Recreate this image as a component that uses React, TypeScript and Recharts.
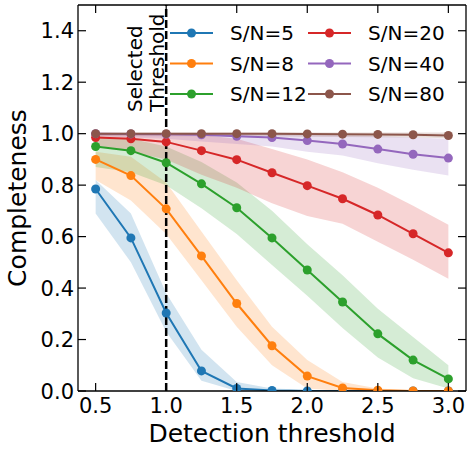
import { ComposedChart, Line, Area, XAxis, YAxis, ReferenceLine } from "recharts";

const THRESHOLDS = [0.5, 0.75, 1.0, 1.25, 1.5, 1.75, 2.0, 2.25, 2.5, 2.75, 3.0];

const SN5 = [0.785, 0.595, 0.303, 0.078, 0.01, 0.002, 0.0, 0.0, 0.0, 0.0, 0.0];
const SN5_LO = [0.69, 0.5, 0.23, 0.04, 0.0, 0.0, 0.0, 0.0, 0.0, 0.0, 0.0];
const SN5_HI = [0.82, 0.69, 0.38, 0.16, 0.035, 0.01, 0.005, 0.0, 0.0, 0.0, 0.0];

const SN8 = [0.9, 0.837, 0.708, 0.525, 0.34, 0.176, 0.058, 0.012, 0.003, 0.0, 0.0];
const SN8_LO = [0.82, 0.74, 0.61, 0.43, 0.25, 0.1, 0.01, 0.0, 0.0, 0.0, 0.0];
const SN8_HI = [0.93, 0.91, 0.81, 0.62, 0.43, 0.25, 0.12, 0.035, 0.01, 0.003, 0.0];

const SN12 = [0.95, 0.934, 0.887, 0.805, 0.712, 0.595, 0.47, 0.346, 0.222, 0.12, 0.047];
const SN12_LO = [0.87, 0.85, 0.8, 0.71, 0.61, 0.49, 0.37, 0.245, 0.13, 0.05, 0.01];
const SN12_HI = [0.99, 0.98, 0.95, 0.89, 0.81, 0.7, 0.57, 0.45, 0.32, 0.21, 0.1];

const SN20 = [0.985, 0.98, 0.968, 0.934, 0.899, 0.848, 0.798, 0.747, 0.684, 0.611, 0.537];
const SN20_LO = [0.955, 0.93, 0.9, 0.84, 0.79, 0.73, 0.68, 0.65, 0.58, 0.51, 0.436];
const SN20_HI = [1.0, 1.0, 1.0, 0.995, 0.98, 0.94, 0.9, 0.85, 0.79, 0.72, 0.646];

const SN40 = [1.0, 0.999, 0.998, 0.996, 0.99, 0.985, 0.973, 0.96, 0.94, 0.92, 0.905];
const SN40_LO = [0.99, 0.985, 0.98, 0.97, 0.96, 0.95, 0.93, 0.915, 0.885, 0.86, 0.837];
const SN40_HI = [1.0, 1.0, 1.0, 1.0, 1.0, 1.0, 1.0, 0.995, 0.99, 0.985, 0.98];

const SN80 = [1.0, 1.0, 1.0, 1.0, 1.0, 1.0, 0.999, 0.998, 0.997, 0.996, 0.993];
const SN80_LO = [0.99, 0.99, 0.99, 0.99, 0.99, 0.99, 0.988, 0.987, 0.986, 0.985, 0.982];
const SN80_HI = [1.005, 1.005, 1.005, 1.005, 1.005, 1.005, 1.005, 1.005, 1.005, 1.005, 1.005];

const X_TICKS = [0.5, 1.0, 1.5, 2.0, 2.5, 3.0];
const Y_TICKS = [0, 0.2, 0.4, 0.6, 0.8, 1.0, 1.2, 1.4];

const SERIES = [
  { key: "sn5", name: "S/N=5", color: "#1f77b4", vals: SN5, lo: SN5_LO, hi: SN5_HI },
  { key: "sn8", name: "S/N=8", color: "#ff7f0e", vals: SN8, lo: SN8_LO, hi: SN8_HI },
  { key: "sn12", name: "S/N=12", color: "#2ca02c", vals: SN12, lo: SN12_LO, hi: SN12_HI },
  { key: "sn20", name: "S/N=20", color: "#d62728", vals: SN20, lo: SN20_LO, hi: SN20_HI },
  { key: "sn40", name: "S/N=40", color: "#9467bd", vals: SN40, lo: SN40_LO, hi: SN40_HI },
  { key: "sn80", name: "S/N=80", color: "#8c564b", vals: SN80, lo: SN80_LO, hi: SN80_HI },
];

const data = THRESHOLDS.map((t, i) => {
  const row: Record<string, number | number[]> = { t };
  SERIES.forEach((s) => {
    row[s.key] = s.vals[i];
    row[s.key + "_band"] = [s.lo[i], s.hi[i]];
  });
  return row;
});

const W = 469;
const H = 450;
const PL = 78;
const PR = 466;
const PT = 5;
const PB = 391;
const FONT = "DejaVu Sans";
const TICK_LEN = 8;

const BottomTick = ({ x, payload }: any) => (
  <g>
    <line x1={x} x2={x} y1={PB} y2={PB - TICK_LEN} stroke="#000" strokeWidth={1.2} />
    <text x={x} y={PB + 22} textAnchor="middle" fontSize={21} fontFamily={FONT} fill="#000">
      {Number(payload.value).toFixed(1)}
    </text>
  </g>
);

const TopTick = ({ x }: any) => (
  <line x1={x} x2={x} y1={PT} y2={PT + TICK_LEN} stroke="#000" strokeWidth={1.2} />
);

const LeftTick = ({ y, payload }: any) => (
  <g>
    <line x1={PL} x2={PL + TICK_LEN} y1={y} y2={y} stroke="#000" strokeWidth={1.2} />
    <text x={PL - 4} y={y + 7.5} textAnchor="end" fontSize={21} fontFamily={FONT} fill="#000">
      {Number(payload.value).toFixed(1)}
    </text>
  </g>
);

const RightTick = ({ y }: any) => (
  <line x1={PR} x2={PR - TICK_LEN} y1={y} y2={y} stroke="#000" strokeWidth={1.2} />
);

const ThresholdLabel = ({ viewBox }: any) => {
  const x = viewBox.x;
  const y = PT + 107;
  return (
    <g fontFamily={FONT} fontSize={20} fill="#000">
      <text transform={`translate(${x - 24}, ${y}) rotate(-90)`} textAnchor="start">
        Selected
      </text>
      <text transform={`translate(${x - 2}, ${y}) rotate(-90)`} textAnchor="start">
        Threshold
      </text>
    </g>
  );
};

const LegendBox = () => {
  const cols = [170, 308];
  const rows = [33, 63.5, 94];
  return (
    <svg width={W} height={H} style={{ position: "absolute", left: 0, top: 0, pointerEvents: "none" }}>
      {SERIES.map((s, i) => {
        const cx = cols[Math.floor(i / 3)];
        const cy = rows[i % 3];
        return (
          <g key={s.key}>
            <line x1={cx} x2={cx + 43} y1={cy} y2={cy} stroke={s.color} strokeWidth={2} />
            <circle cx={cx + 21.5} cy={cy} r={4.5} fill={s.color} />
            <text x={cx + 60} y={cy + 7.3} fontSize={20} fontFamily={FONT} fill="#000">
              {s.name}
            </text>
          </g>
        );
      })}
    </svg>
  );
};

export default function App() {
  return (
    <div style={{ position: "absolute", left: 0, top: 0, width: W, height: H, background: "#fff" }}>
      <ComposedChart width={W} height={H} data={data} margin={{ top: 0, right: 0, bottom: 0, left: 0 }}>
        <XAxis
          dataKey="t"
          type="number"
          domain={[0.375, 3.125]}
          ticks={X_TICKS}
          height={H - PB}
          tick={<BottomTick />}
          tickLine={false}
          axisLine={{ stroke: "#000", strokeWidth: 1.3 }}
          allowDataOverflow
          label={{
            content: () => (
              <text x={(PL + PR) / 2} y={442} textAnchor="middle" fontSize={25} fontFamily={FONT} fill="#000">
                Detection threshold
              </text>
            ),
          }}
        />
        <XAxis
          xAxisId="top"
          orientation="top"
          dataKey="t"
          type="number"
          domain={[0.375, 3.125]}
          ticks={X_TICKS}
          height={PT}
          tick={<TopTick />}
          tickLine={false}
          axisLine={{ stroke: "#000", strokeWidth: 1.3 }}
          allowDataOverflow
        />
        <YAxis
          type="number"
          domain={[0, 1.5]}
          ticks={Y_TICKS}
          width={PL}
          tick={<LeftTick />}
          tickLine={false}
          axisLine={{ stroke: "#000", strokeWidth: 1.3 }}
          allowDataOverflow
          label={{
            content: () => (
              <text
                transform={`translate(26, ${(PT + PB) / 2}) rotate(-90)`}
                textAnchor="middle"
                fontSize={25}
                fontFamily={FONT}
                fill="#000"
              >
                Completeness
              </text>
            ),
          }}
        />
        <YAxis
          yAxisId="right"
          orientation="right"
          type="number"
          domain={[0, 1.5]}
          ticks={Y_TICKS}
          width={W - PR}
          tick={<RightTick />}
          tickLine={false}
          axisLine={{ stroke: "#000", strokeWidth: 1.3 }}
          allowDataOverflow
        />
        {SERIES.map((s) => (
          <Area
            key={s.key + "_band"}
            dataKey={s.key + "_band"}
            type="linear"
            stroke="none"
            fill={s.color}
            fillOpacity={0.2}
            isAnimationActive={false}
            activeDot={false}
          />
        ))}
        {SERIES.map((s) => (
          <Line
            key={s.key}
            dataKey={s.key}
            name={s.name}
            type="linear"
            stroke={s.color}
            strokeWidth={2}
            dot={{ r: 4.5, fill: s.color, stroke: s.color, strokeWidth: 0 }}
            activeDot={false}
            isAnimationActive={false}
          />
        ))}
        <ReferenceLine
          x={1.0}
          stroke="#000"
          strokeWidth={2.5}
          strokeDasharray="8 3"
          label={<ThresholdLabel />}
        />
      </ComposedChart>
      <LegendBox />
    </div>
  );
}
